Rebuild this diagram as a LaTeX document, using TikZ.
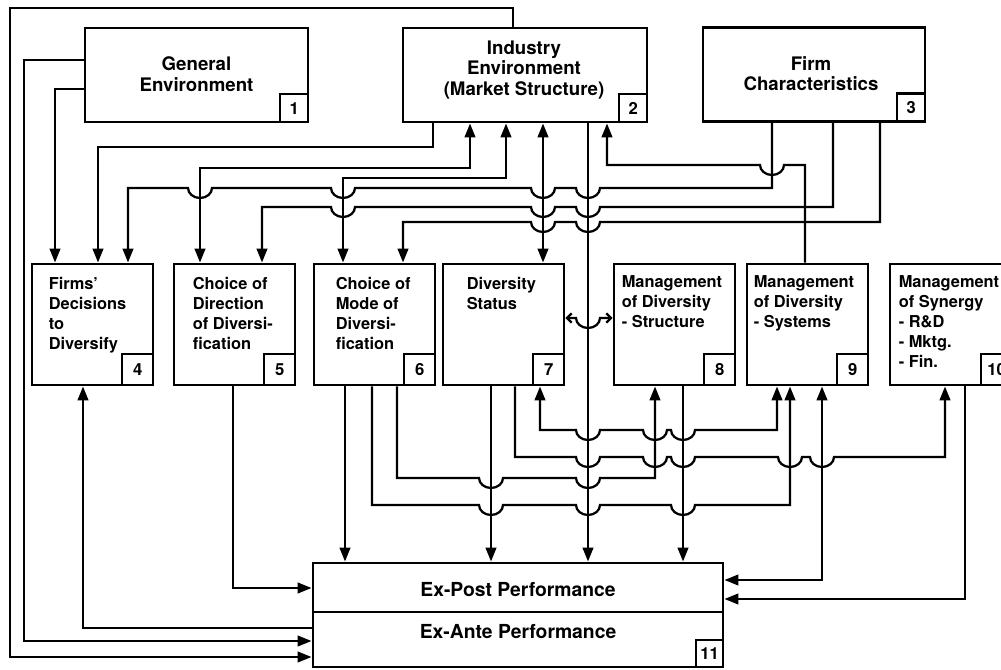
\documentclass[tikz,border=0pt]{standalone}
\usepackage{fontspec}
\setmainfont{TeX Gyre Heros}
\usetikzlibrary{arrows.meta, positioning, calc}

\newdimen\pxu \pxu=0.75pt

% hops over a crossing line, going left or right
\newcommand{\HopR}[2]{-- ({#1-12},#2) arc[start angle=180, end angle=0, x radius=12, y radius=10]}
\newcommand{\HopL}[2]{-- ({#1+12},#2) arc[start angle=0, end angle=180, x radius=12, y radius=10]}

\tikzset{
  box/.style={draw, line width=2.2pt, inner sep=0pt},
  topbox/.style={box, minimum height=94*\pxu},
  midbox/.style={box, minimum width=121*\pxu, minimum height=121*\pxu},
  tag/.style={draw, line width=2pt, inner sep=0pt, anchor=south east,
    font=\bfseries\fontsize{12.5}{13}\selectfont},
  toptext/.style={font=\bfseries\fontsize{14}{15.5}\selectfont, align=center, inner sep=0pt},
  boxtext/.style={font=\bfseries\fontsize{12.3}{15}\selectfont, align=left,
    inner sep=0pt, anchor=north west},
  perftext/.style={font=\bfseries\fontsize{14.5}{16}\selectfont, inner sep=0pt},
  wire/.style={line width=1.7pt, line join=miter},
  >={Triangle[length=10.5pt, width=8pt]},
  barb/.style={{Straight Barb[length=3.5pt, width=7pt]}-{Straight Barb[length=3.5pt, width=7pt]}}
}

\NewDocumentCommand{\Tag}{O{30} m m}{
  \node[tag, minimum width=#1*\pxu, minimum height=#1*\pxu] (#2-tag) at (#2.south east) {#3};
}

\begin{document}
\begin{tikzpicture}[x=0.75pt, y=-0.75pt]
\useasboundingbox (0,0) rectangle (1001,670);

% top row
\node[topbox, minimum width=223*\pxu] (genenv) at (196.5,75) {};
\node[topbox, minimum width=244*\pxu] (indenv) at (525,75) {};
\node[topbox, minimum width=222*\pxu] (firmchar) at (814,74.5) {};
\node[toptext] at ([shift={(0,-1)}]genenv.center) {General\\Environment};
\node[toptext] at ([shift={(-1,-5)}]indenv.center) {Industry\\Environment\\(Market Structure)};
\node[toptext] at ([shift={(-3,-1)}]firmchar.center) {Firm\\Characteristics};
\Tag[28]{genenv}{1}
\Tag[28]{indenv}{2}
\Tag[28]{firmchar}{3}

% middle row
\node[midbox] (decide) at (92.5,324.5) {};
\node[midbox] (direct) at (234.5,324.5) {};
\node[midbox] (mode) at (374.5,324.5) {};
\node[midbox] (status) at (503.5,324.5) {};
\node[midbox] (mstruct) at (674.5,324.5) {};
\node[midbox] (msys) at (807.5,324.5) {};
\node[midbox, minimum width=122*\pxu] (synergy) at (951,324.5) {};
\node[boxtext] at ([shift={(18,14)}]decide.north west) {Firms'\\Decisions\\to\\Diversify};
\node[boxtext] at ([shift={(20,14)}]direct.north west) {Choice of\\Direction\\of Diversi-\\fication};
\node[boxtext] at ([shift={(23,14)}]mode.north west) {Choice of\\Mode of\\Diversi-\\fication};
\node[boxtext] at ([shift={(25,14)}]status.north west) {Diversity\\Status};
\node[boxtext] at ([shift={(9,13)}]mstruct.north west) {Management\\of Diversity\\- Structure};
\node[boxtext] at ([shift={(8,13)}]msys.north west) {Management\\of Diversity\\- Systems};
\node[boxtext] at ([shift={(10,13)}]synergy.north west) {Management\\of Synergy\\- R\&D\\- Mktg.\\- Fin.};
\Tag[31]{decide}{4}
\Tag[31]{direct}{5}
\Tag[31]{mode}{6}
\Tag[31]{status}{7}
\Tag[31]{mstruct}{8}
\Tag[31]{msys}{9}
\Tag[31]{synergy}{10}

% performance
\node[box, minimum width=410*\pxu, minimum height=104*\pxu] (perf) at (518,615) {};
\draw[line width=2pt] (perf.west |- 0,612) -- (perf.east |- 0,612);
\node[perftext] at (518,590) {Ex-Post Performance};
\node[perftext] at (518,632) {Ex-Ante Performance};
\Tag[27]{perf}{11}

% connectors from the top row
\draw[wire,->] (513,0 |- indenv.north) -- (513,8) -- (10,8) -- (10,657) -- (perf.west |- 0,657);
\draw[wire,->] (genenv.west |- 0,60) -- (24,60) -- (24,641) -- (perf.west |- 0,641);
\draw[wire,->] (genenv.west |- 0,89) -- (55,89) -- (55,0 |- decide.north);
\draw[wire,->] (433,0 |- indenv.south) -- (433,147) -- (98,147) -- (98,0 |- decide.north);
\draw[wire,<->] (200,0 |- direct.north) -- (200,168) -- (470,168) -- (470,0 |- indenv.south);
\draw[wire,<->] (343,0 |- mode.north) -- (343,178) -- (506,178) -- (506,0 |- indenv.south);
\draw[wire,<->] (543,0 |- indenv.south) -- (543,0 |- status.north);
\draw[wire,->] (588,0 |- indenv.south) -- (588,0 |- perf.north);
\draw[wire,->] (805,0 |- msys.north) -- (805,165) \HopL{772}{165} -- (607,165) -- (607,0 |- indenv.south);
\draw[wire,->] (772,0 |- firmchar.south) -- (772,188) \HopL{588}{188} \HopL{543}{188}
  \HopL{343}{188} \HopL{200}{188} -- (128,188) -- (128,0 |- decide.north);
\draw[wire,->] (833,0 |- firmchar.south) -- (833,207) \HopL{588}{207} \HopL{543}{207}
  \HopL{343}{207} -- (262,207) -- (262,0 |- direct.north);
\draw[wire,->] (880,0 |- firmchar.south) -- (880,222) \HopL{588}{222} \HopL{543}{222}
  -- (403,222) -- (403,0 |- mode.north);

% connectors from the middle row
\draw[wire,barb] (status.east |- 0,318) \HopR{588}{318} -- (mstruct.west |- 0,318);
\draw[wire,->] (345,0 |- mode.south) -- (345,0 |- perf.north);
\draw[wire,->] (397,0 |- mode.south) -- (397,478) \HopR{491}{478} \HopR{588}{478}
  -- (655,478) -- (655,0 |- mstruct.south);
\draw[wire,->] (372,0 |- mode.south) -- (372,505) \HopR{491}{505} \HopR{588}{505}
  \HopR{683}{505} -- (790,505) -- (790,0 |- msys.south);
\draw[wire,->] (491,0 |- status.south) -- (491,0 |- perf.north);
\draw[wire,->] (515,0 |- status.south) -- (515,457) \HopR{588}{457} \HopR{655}{457}
  \HopR{683}{457} \HopR{790}{457} \HopR{822}{457} -- (945,457) -- (945,0 |- synergy.south);
\draw[wire,<->] (540,0 |- status.south) -- (540,430) \HopR{588}{430} \HopR{655}{430}
  \HopR{683}{430} -- (777,430) -- (777,0 |- msys.south);
\draw[wire,->] (683,0 |- mstruct.south) -- (683,0 |- perf.north);
\draw[wire,<->] (822,0 |- msys.south) -- (822,580) -- (perf.east |- 0,580);
\draw[wire,->] (965,0 |- synergy.south) -- (965,599) -- (perf.east |- 0,599);
\draw[wire,->] (233,0 |- direct.south) -- (233,588) -- (perf.west |- 0,588);
\draw[wire,->] (perf.west |- 0,628) -- (83,628) -- (83,0 |- decide.south);
\end{tikzpicture}
\end{document}
